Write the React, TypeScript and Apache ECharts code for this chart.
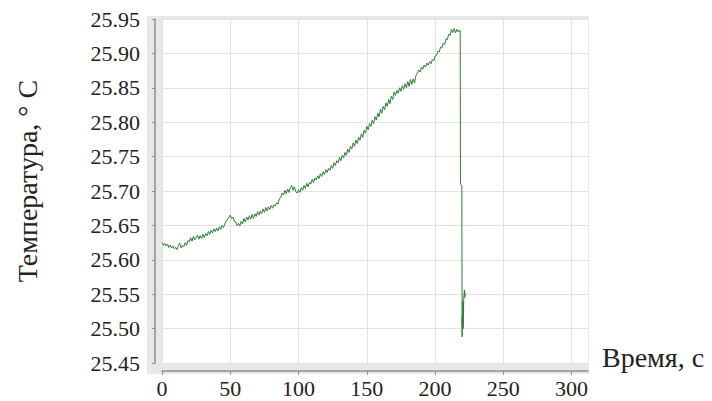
import React, { useEffect, useRef } from "react";
import * as echarts from "echarts";

// Temperature readings, one per second from t = 0 s to t = 218 s
const tempMain: number[] = [
  25.625, 25.621, 25.624, 25.620, 25.623, 25.618, 25.621, 25.617, 25.620, 25.616,
  25.618, 25.615, 25.621, 25.624, 25.617, 25.621, 25.619, 25.625, 25.621, 25.628,
  25.626, 25.632, 25.627, 25.634, 25.629, 25.632, 25.636, 25.630, 25.635, 25.631,
  25.637, 25.632, 25.638, 25.635, 25.641, 25.637, 25.643, 25.639, 25.645, 25.641,
  25.646, 25.642, 25.648, 25.644, 25.650, 25.647, 25.652, 25.656, 25.659, 25.662,
  25.665, 25.660, 25.662, 25.656, 25.655, 25.650, 25.653, 25.649, 25.656, 25.652,
  25.660, 25.655, 25.662, 25.658, 25.664, 25.659, 25.666, 25.660, 25.667, 25.663,
  25.670, 25.665, 25.671, 25.667, 25.674, 25.669, 25.676, 25.671, 25.677, 25.673,
  25.679, 25.675, 25.680, 25.678, 25.683, 25.681, 25.689, 25.691, 25.697, 25.694,
  25.701, 25.696, 25.703, 25.698, 25.705, 25.708, 25.701, 25.706, 25.699, 25.697,
  25.702, 25.698, 25.705, 25.701, 25.708, 25.704, 25.711, 25.706, 25.713, 25.710,
  25.717, 25.712, 25.719, 25.716, 25.722, 25.718, 25.725, 25.721, 25.728, 25.724,
  25.731, 25.727, 25.733, 25.730, 25.737, 25.733, 25.741, 25.737, 25.744, 25.741,
  25.749, 25.744, 25.752, 25.748, 25.756, 25.752, 25.761, 25.756, 25.765, 25.761,
  25.770, 25.765, 25.774, 25.769, 25.778, 25.774, 25.783, 25.778, 25.788, 25.784,
  25.794, 25.789, 25.798, 25.794, 25.803, 25.798, 25.808, 25.803, 25.813, 25.808,
  25.819, 25.813, 25.823, 25.818, 25.828, 25.823, 25.833, 25.827, 25.838, 25.833,
  25.844, 25.839, 25.846, 25.842, 25.850, 25.845, 25.853, 25.848, 25.856, 25.850,
  25.859, 25.852, 25.862, 25.855, 25.863, 25.857, 25.868, 25.871, 25.876, 25.873,
  25.880, 25.877, 25.883, 25.880, 25.886, 25.883, 25.888, 25.885, 25.891, 25.889,
  25.896, 25.897, 25.903, 25.902, 25.909, 25.908, 25.915, 25.913, 25.921, 25.920,
  25.928, 25.926, 25.935, 25.930, 25.936, 25.930, 25.935, 25.931, 25.934,
];
const mainStepSeconds = 1;

// The sudden drop at the end
const tailTimes: number[] = [218.4, 218.6, 219.6, 219.8, 219.9, 220.0, 220.3, 220.6, 221.0, 221.5, 221.8, 222.0];
const tailValues: number[] = [25.933, 25.710, 25.708, 25.488, 25.520, 25.505, 25.540, 25.500, 25.545, 25.556, 25.545, 25.552];

const xTicks: number[] = [0, 50, 100, 150, 200, 250, 300];
const yTicks: number[] = [25.45, 25.5, 25.55, 25.6, 25.65, 25.7, 25.75, 25.8, 25.85, 25.9, 25.95];

const yTitle = "Температура, ° С";
const xTitle = "Время, с";

const FONT = "Liberation Serif";

export default function App() {
  const ref = useRef<HTMLDivElement>(null);
  useEffect(() => {
    if (!ref.current) return;
    const chart = echarts.init(ref.current, undefined, { renderer: "svg" });
    const data: [number, number][] = [
      ...tempMain.map((v, i) => [i * mainStepSeconds, v] as [number, number]),
      ...tailTimes.map((t, i) => [t, tailValues[i]] as [number, number]),
    ];
    chart.setOption({
      animation: false,
      graphic: [
        {
          type: "rect",
          z: -100,
          silent: true,
          shape: { x: 147, y: 16, width: 442, height: 358 },
          style: { fill: "#e8e8e8" },
        },
        {
          type: "text",
          x: 27,
          y: 181,
          rotation: Math.PI / 2,
          style: {
            text: yTitle,
            fontFamily: FONT,
            fontSize: 28,
            fill: "#222",
            align: "center",
            verticalAlign: "middle",
          },
        },
        {
          type: "text",
          x: 602,
          y: 357,
          style: {
            text: xTitle,
            fontFamily: FONT,
            fontSize: 28,
            fill: "#222",
            align: "left",
            verticalAlign: "middle",
          },
        },
      ],
      grid: {
        left: 162,
        top: 19,
        right: 124,
        bottom: 38,
        show: true,
        backgroundColor: "#ffffff",
        borderWidth: 0,
      },
      xAxis: {
        type: "value",
        min: 0,
        max: 312,
        offset: 8,
        axisLine: { show: true, onZero: false, lineStyle: { color: "#8f8f8f", width: 1.5 } },
        axisTick: { show: true, length: 4, customValues: xTicks, lineStyle: { color: "#8f8f8f" } },
        axisLabel: {
          customValues: xTicks,
          margin: 6,
          fontFamily: FONT,
          fontSize: 22,
          color: "#222",
        },
        splitLine: { show: true, lineStyle: { color: "#e2e2e2", width: 1 } },
      },
      yAxis: {
        type: "value",
        min: 25.45,
        max: 25.95,
        offset: 7,
        axisLine: { show: true, onZero: false, lineStyle: { color: "#8f8f8f", width: 1.5 } },
        axisTick: { show: true, length: 3, customValues: yTicks, lineStyle: { color: "#8f8f8f" } },
        axisLabel: {
          customValues: yTicks,
          margin: 15,
          fontFamily: FONT,
          fontSize: 22,
          color: "#222",
          formatter: (v: number) => v.toFixed(2),
        },
        splitLine: { show: true, lineStyle: { color: "#e2e2e2", width: 1 } },
      },
      series: [
        {
          type: "line",
          data,
          showSymbol: false,
          symbol: "none",
          lineStyle: { color: "#2f7d32", width: 1 },
        },
      ],
    });
    return () => chart.dispose();
  }, []);
  return <div ref={ref} style={{ width: 712, height: 401, position: "absolute", left: 0, top: 0 }} />;
}
